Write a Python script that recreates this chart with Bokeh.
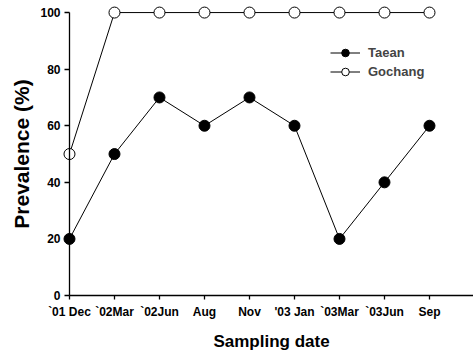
from bokeh.plotting import figure
from bokeh.models import Range1d, FixedTicker, Legend, LegendItem
from bokeh.embed import file_html
from bokeh.resources import INLINE

dates = ["`01 Dec", "`02Mar", "`02Jun", "Aug", "Nov", "'03 Jan", "`03Mar", "`03Jun", "Sep"]
taean = [20, 50, 70, 60, 70, 60, 20, 40, 60]
gochang = [50, 100, 100, 100, 100, 100, 100, 100, 100]
y_ticks = [0, 20, 40, 60, 80, 100]

x = list(range(len(dates)))
FONT = "Liberation Sans"

p = figure(width=473, height=355, output_backend="svg", toolbar_location=None,
           x_range=Range1d(-1.533, 8.978), y_range=Range1d(-21.2, 102.5),
           min_border_left=0, min_border_right=0, min_border_top=5, min_border_bottom=0)
p.outline_line_color = None
p.xgrid.visible = False
p.ygrid.visible = False
p.background_fill_color = "white"
p.border_fill_color = "white"

p.yaxis.fixed_location = 0
p.xaxis.fixed_location = 0
p.yaxis.bounds = (0, 100)
p.xaxis.bounds = (0, 8.978)

for ax in (p.xaxis[0], p.yaxis[0]):
    ax.axis_line_color = "black"
    ax.axis_line_width = 1.3
    ax.major_tick_line_color = "black"
    ax.major_tick_line_width = 1.3
    ax.minor_tick_line_color = None
    ax.major_tick_in = 0
    ax.major_label_text_font = FONT
    ax.major_label_text_font_style = "bold"
    ax.major_label_text_font_size = "12px"
    ax.major_label_text_color = "black"
    ax.axis_label_text_font = FONT
    ax.axis_label_text_font_style = "bold"
    ax.axis_label_text_color = "black"

p.xaxis.ticker = FixedTicker(ticks=x)
p.xaxis.major_label_overrides = {i: d for i, d in enumerate(dates)}
p.xaxis.major_tick_out = 4
p.xaxis.major_label_standoff = 5
p.xaxis.axis_label = "Sampling date"
p.xaxis.axis_label_text_font_size = "17px"
p.xaxis.axis_label_standoff = 10

p.yaxis.ticker = FixedTicker(ticks=y_ticks)
p.yaxis.major_tick_out = 5
p.yaxis.major_label_standoff = 4
p.yaxis.axis_label = "Prevalence (%)"
p.yaxis.axis_label_text_font_size = "21px"
p.yaxis.axis_label_standoff = 4

l1 = p.line(x, taean, line_color="black", line_width=1)
s1 = p.scatter(x, taean, size=11, fill_color="black", line_color="black")
l2 = p.line(x, gochang, line_color="black", line_width=1)
s2 = p.scatter(x, gochang, size=11, fill_color="white", line_color="black", line_width=1)

legend = Legend(items=[LegendItem(label="Taean", renderers=[l1, s1]),
                       LegendItem(label="Gochang", renderers=[l2, s2])],
                location=(330, 274), border_line_color=None, background_fill_alpha=0,
                glyph_width=30, glyph_height=19, label_standoff=8, padding=0, spacing=0,
                label_text_font=FONT, label_text_font_style="bold",
                label_text_font_size="13px", label_height=19)
p.add_layout(legend)

open("out.html", "w").write(file_html(p, INLINE))
